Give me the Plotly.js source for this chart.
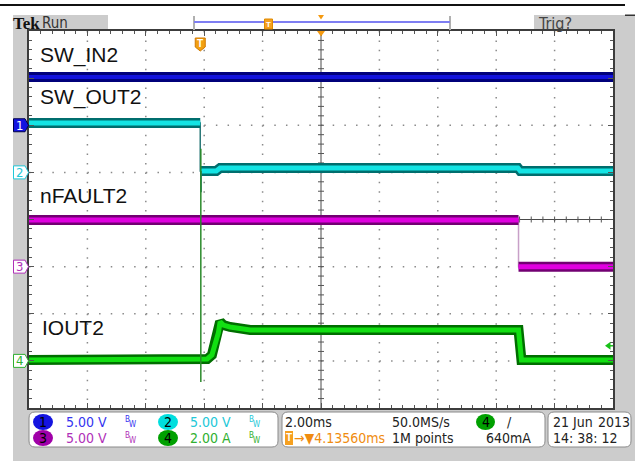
<!DOCTYPE html>
<html><head><meta charset="utf-8">
<script src="https://cdn.plot.ly/plotly-3.0.1.min.js"></script>
<style>html,body{margin:0;padding:0;background:#fff;overflow:hidden}#plot{width:635px;height:461px}</style>
</head><body><div id="plot"></div>
<script>
// ---------------- data ----------------
const TIME_PER_DIV = 2.0;        // ms / div
const TRIG_TO_CENTER = 4.1356;   // ms, trigger -> screen centre
const channelIds = ['1','2','3','4'];
const channelNames = ['SW_IN2','SW_OUT2','nFAULT2','IOUT2'];
const channelScales = [5, 5, 5, 2];        // V/div, V/div, V/div, A/div
const channelOffsets = [2, 1, -1, -3];     // ground marker position (div)
const scaleLabels = ['5.00 V','5.00 V','5.00 V','2.00 A'];

const swIn2Time  = [-5.8644, 14.1356];
const swIn2Volts = [5.12, 5.12];

const swOut2Time  = [-5.8644, 0, 0, 0.55, 0.68, 10.88, 10.96, 14.1356];
const swOut2Volts = [5.24, 5.24, 0.15, 0.15, 0.46, 0.46, 0.15, 0.15];
const swOut2SpikeTime  = [0.03, 0.03];
const swOut2SpikeVolts = [0.15, -2.1];

const nFault2Time  = [-5.8644, 10.9, 10.9, 14.1356];
const nFault2Volts = [4.95, 4.95, 0.0, 0.0];

const iout2Time = [-5.8644, 0.24, 0.40, 0.51, 0.62, 0.68, 0.79, 1.02, 1.71, 10.9, 11.0, 14.1356];
const iout2Amps = [0.04, 0.08, 0.25, 0.67, 1.18, 1.66, 1.52, 1.44, 1.31, 1.31, 0.04, 0.04];
const iout2SpikeTime = [0.02, 0.02];
const iout2SpikeAmps = [9.0, -0.9];

const trigLevelAmps = 0.64;
const timebaseLabel = '2.00ms';
const delayLabel = '\u2192\u25BC4.13560ms';
const sampleRateLabel = '50.0MS/s';
const recordLabel = '1M points';
const trigLabel = '640mA';
const dateLabel = '21 Jun', yearLabel = '2013', clockLabel = '14: 38: 12';

// ---------------- styling ----------------
const W = 635, H = 461, L = 29, R = 22, T = 31, B = 53;
const PW = W - L - R, PH = H - T - B;
const px = x => (x - L) / PW;
const py = y => (H - B - y) / PH;
const NARROW = '"Liberation Sans Narrow", "DejaVu Sans Condensed", "Arial Narrow", sans-serif';
const SANS = '"Liberation Sans", Arial, sans-serif';

const chOuter = ['#00007a','#006e6e','#720072','#006e00'];
const chInner = ['#1212dc','#14e4e4','#e000e0','#12e012'];
const chEdge  = ['#00007a','#2a7878','#c8a0c8','#2a8a2a'];
const chText  = ['#3434f0','#22c8d8','#b030b8','#30b030'];
const chFill  = ['#1414e0','#00dede','#a000a8','#00a000'];

const xMin = -(5 * TIME_PER_DIV - TRIG_TO_CENTER);
const xMax = 5 * TIME_PER_DIV + TRIG_TO_CENTER;
const yRange = i => [(-4 - channelOffsets[i]) * channelScales[i], (4 - channelOffsets[i]) * channelScales[i]];
const yAxisIds = ['y','y2','y3','y4'];

function bandSplit(t, v) {
  const tt = [], vv = [];
  for (let i = 0; i < t.length; i++) {
    if (i > 0 && t[i] === t[i-1]) { tt.push(null); vv.push(null); }
    tt.push(t[i]); vv.push(v[i]);
  }
  return [tt, vv];
}
function chanTraces(t, v, i) {
  const [bt, bv] = bandSplit(t, v);
  const ya = yAxisIds[i];
  return [
    {x: t, y: v, yaxis: ya, mode: 'lines', line: {color: chEdge[i], width: 1.5}, hoverinfo: 'skip', showlegend: false},
    {x: bt, y: bv, yaxis: ya, mode: 'lines', line: {color: chOuter[i], width: 10}, connectgaps: false, hoverinfo: 'skip', showlegend: false},
    {x: bt, y: bv, yaxis: ya, mode: 'lines', line: {color: chInner[i], width: i === 0 ? 4 : 5}, connectgaps: false, hoverinfo: 'skip', showlegend: false}
  ];
}
const traces = [].concat(
  chanTraces(swIn2Time, swIn2Volts, 0),
  chanTraces(swOut2Time, swOut2Volts, 1),
  [{x: swOut2SpikeTime, y: swOut2SpikeVolts, yaxis: 'y2', mode: 'lines', line: {color: chEdge[1], width: 1.5}, hoverinfo: 'skip', showlegend: false}],
  chanTraces(nFault2Time, nFault2Volts, 2),
  chanTraces(iout2Time, iout2Amps, 3),
  [{x: iout2SpikeTime, y: iout2SpikeAmps, yaxis: 'y4', mode: 'lines', line: {color: chEdge[3], width: 1.5}, hoverinfo: 'skip', showlegend: false}]
);

// ---------------- shapes ----------------
const shapes = [];
function rect(x0, y0, x1, y1, fill, line, lw, layer) {
  shapes.push({type: 'rect', xref: 'paper', yref: 'paper', x0: px(x0), x1: px(x1), y0: py(y1), y1: py(y0),
    fillcolor: fill, line: {color: line || fill, width: lw || 0}, layer: layer || 'below'});
}
function poly(pts, fill, line, lw, layer) {
  const d = 'M' + pts.map(p => px(p[0]) + ',' + py(p[1])).join('L') + 'Z';
  shapes.push({type: 'path', xref: 'paper', yref: 'paper', path: d, fillcolor: fill,
    line: {color: line || fill, width: lw || 0}, layer: layer || 'above'});
}
function seg(x0, y0, x1, y1, color, w, layer, dash) {
  shapes.push({type: 'line', xref: 'paper', yref: 'paper', x0: px(x0), x1: px(x1), y0: py(y0), y1: py(y1),
    line: {color: color, width: w, dash: dash || 'solid'}, layer: layer || 'below'});
}
function rrect(x0, y0, x1, y1, r, fill, line) {
  const P = (x, y) => px(x) + ',' + py(y);
  const d = 'M' + P(x0 + r, y0) + 'L' + P(x1 - r, y0) + 'Q' + P(x1, y0) + ' ' + P(x1, y0 + r) +
    'L' + P(x1, y1 - r) + 'Q' + P(x1, y1) + ' ' + P(x1 - r, y1) + 'L' + P(x0 + r, y1) +
    'Q' + P(x0, y1) + ' ' + P(x0, y1 - r) + 'L' + P(x0, y0 + r) + 'Q' + P(x0, y0) + ' ' + P(x0 + r, y0) + 'Z';
  shapes.push({type: 'path', xref: 'paper', yref: 'paper', path: d, fillcolor: fill, line: {color: line, width: 1}, layer: 'below'});
}
function ellipse(x0, y0, x1, y1, fill) {
  shapes.push({type: 'circle', xref: 'paper', yref: 'paper', x0: px(x0), x1: px(x1), y0: py(y1), y1: py(y0),
    fillcolor: fill, line: {color: fill, width: 0}, layer: 'above'});
}

// frame (grey strips around the graticule, never over it)
const GREY = '#cccccc';
rect(0, 4, 625, 6, '#111');
rect(13, 15, 108, 31, GREY);
rect(534, 15, 635, 31, GREY);
rect(13, 31, 29, 461, GREY);
rect(613, 31, 635, 461, GREY);
rect(29, 408, 613, 461, GREY);
rect(625, 14.5, 635, 16, '#333');
// header record view
seg(194, 16, 194, 30, '#b0b0b0', 2, 'above');
seg(450, 16, 450, 30, '#b0b0b0', 2, 'above');
seg(194, 22, 450, 22, '#7e7ef2', 2, 'above');
rect(264.5, 19, 272.5, 29, '#f5a020', '#e08a00', 1, 'above');
poly([[318, 15], [324, 15], [321, 19.5]], '#f59a10');
// graticule top orange triangle
poly([[317, 31], [325, 31], [321, 36.5]], '#f59a10');

// dotted graticule (every division, dots every 0.2 division)
const cx = L + PW / 2, cy = T + PH / 2;
for (let i = 1; i < 10; i++) { if (i === 5) continue; const x = L + PW * i / 10; seg(x, T, x, T + PH, '#8a8a8a', 1.5, 'below', '1.5px,7.925px'); }
for (let j = 1; j < 8; j++) { if (j === 4) continue; const y = T + PH * j / 8; seg(L, y, L + PW, y, '#8a8a8a', 1.5, 'below', '1.5px,10.18px'); }

// centre crosshair
seg(cx, T, cx, T + PH, '#4a4a4a', 1);
seg(L, cy, L + PW, cy, '#4a4a4a', 1);
for (let i = 1; i < 50; i++) { const x = L + PW * i / 50; seg(x, cy - 3, x, cy + 3, '#555', 1); }
for (let i = 1; i < 40; i++) { const y = T + PH * i / 40; seg(cx - 3, y, cx + 3, y, '#555', 1); }

// trigger position marker
const trigPx = L + (0 - xMin) / (xMax - xMin) * PW;
poly([[trigPx - 5, 38], [trigPx + 5, 38], [trigPx + 5, 47], [trigPx, 51], [trigPx - 5, 47]], '#f2a010', '#d07800', 1);

// trigger level marker (right edge)
const chYpx = (i, v) => T + (4 - (channelOffsets[i] + v / channelScales[i])) / 8 * PH;
const tl = chYpx(3, trigLevelAmps);
poly([[605, tl], [610.5, tl - 4], [610.5, tl + 4]], '#18c018');
seg(610, tl, 613, tl, '#18c018', 1.5, 'above');

const annotations = [];
function ann(s, x, y, size, color, family, extra) {
  annotations.push(Object.assign({text: s, xref: 'paper', yref: 'paper', x: px(x), y: py(y), xanchor: 'left', yanchor: 'middle',
    showarrow: false, borderpad: 0, font: {family: family || NARROW, size: size, color: color}}, extra || {}));
}
const centered = {xanchor: 'center'};

// channel ground markers
channelIds.forEach((id, i) => {
  const y = chYpx(i, 0);
  const fill = i === 0 ? chFill[0] : '#ffffff';
  const line = i === 0 ? '#00004a' : chText[i];
  poly([[13.5, y - 6.5], [25, y - 6.5], [28.5, y], [25, y + 6.5], [13.5, y + 6.5]], fill, line, 1);
  ann(id, 19.5, y, 13, i === 0 ? '#ffffff' : chText[i], NARROW, centered);
});

// info boxes
rrect(29, 412, 278, 447, 6, '#ffffff', '#8a8a8a');
rrect(282, 412, 545, 447, 6, '#ffffff', '#8a8a8a');
rrect(548, 412, 631, 447, 6, '#ffffff', '#8a8a8a');

// channel readouts
const rowY = [422, 438];
const colX = [[33, 53, 65, 124], [158, 178, 189, 248]];
channelIds.forEach((id, i) => {
  const c = colX[i % 2], yy = rowY[Math.floor(i / 2)];
  ellipse(c[0], yy - 8, c[1], yy + 8, chFill[i]);
  ann(id, (c[0] + c[1]) / 2, yy, 14, '#000', NARROW, centered);
  ann(scaleLabels[i], c[2], yy, 14, chText[i]);
  ann('B', c[3], yy - 3, 8, chText[i]);
  ann('W', c[3] + 3.5, yy + 2, 8, chText[i]);
});

// timebase box
ann(timebaseLabel, 284, rowY[0], 14, '#222');
rect(285, 431, 293, 445, '#f5a020', '#f5a020', 0, 'above');
ann('T', 289, 438, 10, '#fff', SANS, {xanchor: 'center', font: {family: SANS, size: 10, color: '#fff', weight: 'bold'}});
ann(delayLabel, 293, rowY[1], 14, '#f08c10');
ann(sampleRateLabel, 391, rowY[0], 14, '#222');
ann(recordLabel, 391, rowY[1], 14, '#222');
ellipse(476, rowY[0] - 8, 495, rowY[0] + 8, chFill[3]);
ann('4', 485.5, rowY[0], 14, '#000', NARROW, centered);
ann('/', 506, rowY[0], 14, '#222');
ann(trigLabel, 485, rowY[1], 14, '#222');

// date box
ann(dateLabel, 552, rowY[0], 14, '#222');
ann(yearLabel, 631, rowY[0], 14, '#222', NARROW, {xanchor: 'right'});
ann(clockLabel, 552, rowY[1], 14, '#222');

// header text
ann('Tek', 12, 23, 17, '#111', null, {font: {family: '"Liberation Serif", serif', size: 17, color: '#111', weight: 'bold'}});
ann('Run', 41, 23, 15, '#333');
ann('Trig?', 537, 23, 16, '#444');
ann('T', 268.5, 24, 8, '#fff', SANS, {xanchor: 'center', font: {family: SANS, size: 8, color: '#fff', weight: 'bold'}});
ann('T', trigPx, 43.5, 10, '#fff', SANS, {xanchor: 'center', font: {family: SANS, size: 10, color: '#fff', weight: 'bold'}});

// channel name labels
const labelY = [55, 97, 195, 327.5];
const labelX = [39, 39, 39, 41];
channelNames.forEach((n, i) => ann(n, labelX[i], labelY[i], 21, '#111', SANS));

// ---------------- layout ----------------
const axisCommon = {showticklabels: false, fixedrange: true, zeroline: false};
const layout = {
  width: W, height: H, autosize: false,
  margin: {l: L, r: R, t: T, b: B, pad: 0},
  paper_bgcolor: '#ffffff', plot_bgcolor: '#ffffff',
  showlegend: false,
  xaxis: Object.assign({}, axisCommon, {
    range: [xMin, xMax], tick0: xMin, dtick: TIME_PER_DIV, showgrid: false,
    showline: true, linecolor: '#3c3c3c', linewidth: 2, mirror: 'ticks',
    ticks: 'inside', ticklen: 5, tickcolor: '#555', tickwidth: 1,
    minor: {tick0: xMin, dtick: TIME_PER_DIV / 5, ticks: 'inside', ticklen: 3, tickcolor: '#555', tickwidth: 1, showgrid: false}
  }),
  yaxis: Object.assign({}, axisCommon, {
    range: yRange(0), tick0: 0, dtick: channelScales[0], showgrid: false,
    showline: true, linecolor: '#3c3c3c', linewidth: 2, mirror: 'ticks',
    ticks: 'inside', ticklen: 5, tickcolor: '#555', tickwidth: 1,
    minor: {tick0: 0, dtick: channelScales[0] / 5, ticks: 'inside', ticklen: 3, tickcolor: '#555', tickwidth: 1, showgrid: false}
  }),
  shapes: shapes,
  annotations: annotations
};
[1, 2, 3].forEach(i => {
  layout['yaxis' + (i + 1)] = Object.assign({}, axisCommon, {overlaying: 'y', range: yRange(i), visible: false, showgrid: false});
});

Plotly.newPlot('plot', traces, layout, {staticPlot: true, displayModeBar: false});
</script>
</body></html>
